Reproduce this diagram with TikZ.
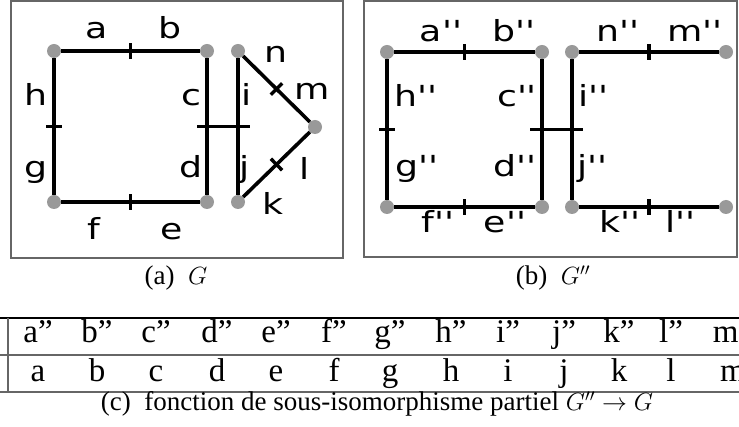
\documentclass[tikz,border=0pt]{standalone}
\usepackage{fontspec}
\setmainfont{Liberation Serif}
\newfontfamily\graphfont[FakeStretch=1.25]{DejaVu Sans}
\usetikzlibrary{positioning}
\tikzset{
  frm/.style={draw=black!60,line width=1.4pt},                 % cadre des sous-figures
  edg/.style={line width=3.6pt},                               % arete
  vtx/.style={circle,fill=black!40,minimum size=14pt,inner sep=0pt},
  tck/.style={fill=black,minimum width=3.4pt,minimum height=16pt,inner sep=0pt},
  lbl/.style={font=\graphfont\fontsize{29}{29}\selectfont,anchor=base,inner sep=0pt},
  cell/.style={font=\fontsize{33}{33}\selectfont,anchor=base,inner sep=0pt},
  subcap/.style={font=\fontsize{27}{27}\selectfont,anchor=base,inner sep=0pt},
  rul/.style={draw=black!60,line width=1.2pt}
}

\begin{document}
\begin{tikzpicture}[x=1pt,y=-1pt]
  \useasboundingbox (0,0) rectangle (739,427);
  \clip (0,0) rectangle (739,427);

  % (a) G
  \draw[frm] (11,1) rectangle (343,258);
  \node[vtx] (a1) at (54,51)   {};
  \node[vtx] (a2) at (207,51)  {};
  \node[vtx] (a3) at (207,202) {};
  \node[vtx] (a4) at (54,202)  {};
  \node[vtx] (a5) at (238,51)  {};
  \node[vtx] (a6) at (238,202) {};
  \node[vtx] (a7) at (315,127) {};
  \draw[edg] (a1) -- node[tck,sloped]{} (a2);
  \draw[edg] (a4) -- node[tck,sloped]{} (a3);
  \draw[edg] (a1) -- node[tck,sloped]{} (a4);
  \draw[edg] (a2) -- coordinate[midway] (acd) (a3);
  \draw[edg] (a5) -- coordinate[midway] (aij) (a6);
  \draw[edg] (a5) -- node[tck,sloped]{} (a7);
  \draw[edg] (a6) -- node[tck,sloped]{} (a7);
  \draw[edg] ([xshift=-10pt]acd) -- ([xshift=12pt]aij);
  \node[lbl] (la) at (97,39)  {a};
  \node[lbl] (lb) at (170,39) {b};
  \node[lbl] (lh) at (36,106) {h};
  \node[lbl] (lg) at (36,178) {g};
  \node[lbl] (lc) at (191,106) {c};
  \node[lbl] (ld) at (191,178) {d};
  \node[lbl] (li) at (247,106) {i};
  \node[lbl] (lj) at (245,178) {j};
  \node[lbl] (ln) at (276,63)  {n};
  \node[lbl] (lm) at (312,100) {m};
  \node[lbl] (ll) at (305,180) {l};
  \node[lbl] (lk) at (273,215) {k};
  \node[lbl] (lf) at (94,240)  {f};
  \node[lbl] (le) at (172,240) {e};

  % (b) G''
  \draw[frm] (364,1) rectangle (737,257);
  \node[vtx] (b1) at (387,52)  {};
  \node[vtx] (b2) at (542,52)  {};
  \node[vtx] (b3) at (542,207) {};
  \node[vtx] (b4) at (387,207) {};
  \node[vtx] (b5) at (572,52)  {};
  \node[vtx] (b6) at (726,52)  {};
  \node[vtx] (b7) at (726,207) {};
  \node[vtx] (b8) at (572,207) {};
  \draw[edg] (b1) -- node[tck,sloped]{} (b2);
  \draw[edg] (b4) -- node[tck,sloped]{} (b3);
  \draw[edg] (b1) -- node[tck,sloped]{} (b4);
  \draw[edg] (b2) -- coordinate[midway] (bcd) (b3);
  \draw[edg] (b5) -- coordinate[midway] (bij) (b8);
  \draw[edg] (b5) -- node[tck,sloped]{} (b6);
  \draw[edg] (b8) -- node[tck,sloped]{} (b7);
  \draw[edg] ([xshift=-12pt]bcd) -- ([xshift=11pt]bij);
  \node[lbl] (pa) at (441,42)  {a''};
  \node[lbl] (pb) at (514,42)  {b''};
  \node[lbl] (pn) at (618,42)  {n''};
  \node[lbl] (pm) at (695,42)  {m''};
  \node[lbl] (ph) at (416,107) {h''};
  \node[lbl] (pc) at (517,107) {c''};
  \node[lbl] (pi) at (593,107) {i''};
  \node[lbl] (pg) at (417,177) {g''};
  \node[lbl] (pd) at (515,177) {d''};
  \node[lbl] (pj) at (592,177) {j''};
  \node[lbl] (pf) at (438,233) {f''};
  \node[lbl] (pe) at (505,233) {e''};
  \node[lbl] (pk) at (620,233) {k''};
  \node[lbl] (pl) at (680,233) {l''};

  \node[subcap] (capa) at (176,285) {(a)\enspace$G$};
  \node[subcap] (capb) at (553,285) {(b)\enspace$G''$};

  % (c) tableau
  \draw[draw=black,line width=1.3pt] (0,318) -- (739,318);
  \draw[rul] (0,355) -- (739,355);
  \draw[rul] (0,392) -- (739,392);
  \draw[rul] (8,318) -- (8,392);
  \node[cell] (u1) at (38,343)  {a''};  \node[cell] (d1) at (38,382)  {a};
  \node[cell] (u2) at (97,343)  {b''};  \node[cell] (d2) at (97,382)  {b};
  \node[cell] (u3) at (156,343) {c''};  \node[cell] (d3) at (156,382) {c};
  \node[cell] (u4) at (217,343) {d''};  \node[cell] (d4) at (217,382) {d};
  \node[cell] (u5) at (276,343) {e''};  \node[cell] (d5) at (276,382) {e};
  \node[cell] (u6) at (334,343) {f''};  \node[cell] (d6) at (334,382) {f};
  \node[cell] (u7) at (390,343) {g''};  \node[cell] (d7) at (390,382) {g};
  \node[cell] (u8) at (451,343) {h''};  \node[cell] (d8) at (451,382) {h};
  \node[cell] (u9) at (508,343) {i''};  \node[cell] (d9) at (508,382) {i};
  \node[cell] (u10) at (564,343) {j''}; \node[cell] (d10) at (564,382) {j};
  \node[cell] (u11) at (619,343) {k''}; \node[cell] (d11) at (619,382) {k};
  \node[cell] (u12) at (671,343) {l''}; \node[cell] (d12) at (671,382) {l};
  \node[cell] (u13) at (733,343) {m''}; \node[cell] (d13) at (733,382) {m};
  \node[subcap] (capc) at (377,411) {(c)\enspace fonction de sous-isomorphisme partiel $G''\to G$};
\end{tikzpicture}
\end{document}
